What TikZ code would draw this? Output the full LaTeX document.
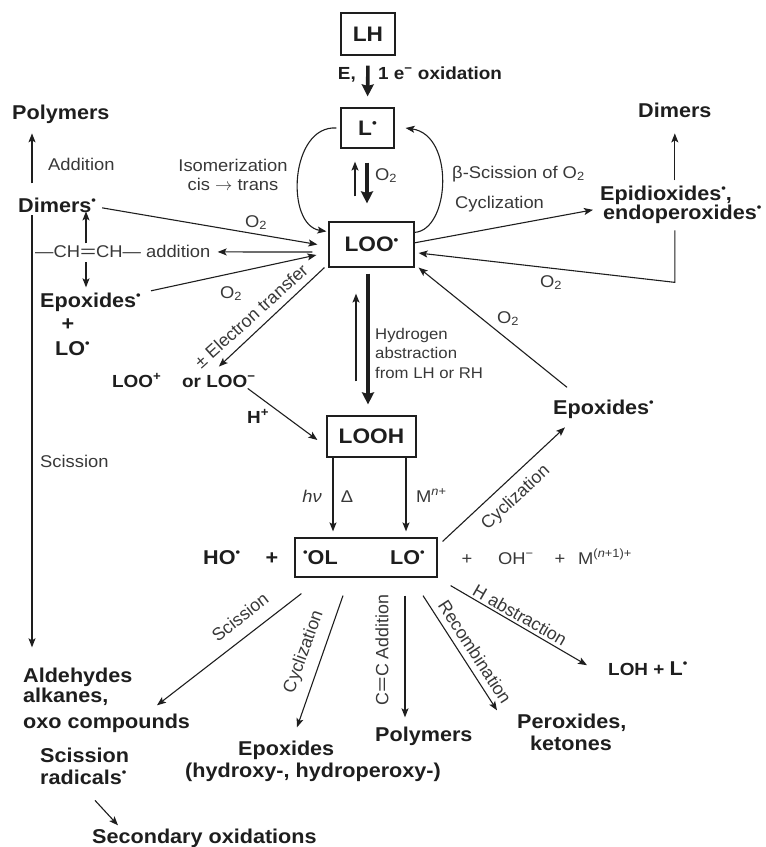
\documentclass[tikz,border=0pt]{standalone}
\usepackage{fontspec}
\usepackage{graphicx}
\setmainfont{Liberation Sans}[FakeStretch=1.08]
\newfontfamily\plainsans{Liberation Sans}
\usetikzlibrary{arrows.meta,calc}
\definecolor{ink}{HTML}{1E1E1E}
\definecolor{lbl}{HTML}{383838}
\newcommand\rd{\raisebox{0.36em}{\scalebox{0.6}{•}}}
\newcommand\dbl{\scalebox{1.5}[1]{=}}
\tikzset{
  bt/.style={font=\fontsize{20}{23}\selectfont\bfseries, text=ink, inner sep=0pt},
  bm/.style={font=\fontsize{17.5}{21}\selectfont\bfseries, text=ink, inner sep=0pt},
  rt/.style={font=\fontsize{17}{20}\selectfont, text=lbl, inner sep=0pt},
  rot/.style={font=\plainsans\fontsize{17.8}{20}\selectfont, text=lbl, inner sep=0pt},
  st/.style={font=\fontsize{15.5}{19}\selectfont, text=lbl, inner sep=0pt},
  boxn/.style={draw=ink, line width=1.2pt, font=\fontsize{21}{24}\selectfont\bfseries, text=ink, inner sep=0pt},
  ar/.style={draw=ink, line width=1.1pt, -{Stealth[length=9pt,width=7pt,inset=2pt]}},
  tk/.style={draw=ink, line width=3.6pt, -{Stealth[length=12pt,width=12pt,inset=1.5pt]}},
}
\begin{document}
\begin{tikzpicture}[x=1pt,y=-1pt]
\useasboundingbox (0,0) rectangle (766,847);
% boxes
\node[boxn, minimum width=54pt, minimum height=42pt] (lh) at (368,34) {LH};
\node[boxn, minimum width=53pt, minimum height=40pt] (lr) at (367.5,128) {L\rd};
\node[boxn, minimum width=85pt, minimum height=45pt] (loo) at (371.5,244.5) {LOO\rd};
\node[boxn, minimum width=89pt, minimum height=41pt] (looh) at (371.5,436.5) {LOOH};
\node[boxn, minimum width=142pt, minimum height=39pt] (lobox) at (366,557.5) {};
\node[bt, anchor=base west] (ol) at (303,564) {\rd OL};
\node[bt, anchor=base west] (lo) at (390,564) {LO\rd};
% left
\node[bt, anchor=base west] (polyL) at (12,119) {Polymers};
\node[rt, anchor=base west] (addL) at (48,170) {Addition};
\node[bt, anchor=base west] (dimL) at (18,212) {Dimers\rd};
\node[rt, anchor=base west] (chch) at (35,257) {—CH\dbl CH— addition};
\node[bt, anchor=base west] (epoxL) at (40,307) {Epoxides\rd};
\node[bt, anchor=base] (plusL) at (68,330) {+};
\node[bt, anchor=base west] (loL) at (55,355) {LO\rd};
\node[rt, anchor=base west] (scisL) at (40,467) {Scission};
% top labels
\node[bm, anchor=base east] (eL) at (356,79) {E,};
\node[bm, anchor=base west] (oxL) at (378,79) {1 e\textsuperscript{−} oxidation};
\node[rt, anchor=base] (iso1) at (233,171) {Isomerization};
\node[rt, anchor=base] (iso2) at (233,190) {cis $\rightarrow$ trans};
\node[rt, anchor=base west] (o2a) at (375,180) {O\textsubscript{2}};
\node[rt, anchor=base west] (beta) at (452,178) {β-Scission of O\textsubscript{2}};
\node[rt, anchor=base west] (cycT) at (455,208) {Cyclization};
\node[rt, anchor=base west] (o2b) at (245,227) {O\textsubscript{2}};
\node[rt, anchor=base west] (o2c) at (220,298) {O\textsubscript{2}};
\node[rt, anchor=base west] (o2d) at (540,287) {O\textsubscript{2}};
\node[rt, anchor=base west] (o2e) at (497,323) {O\textsubscript{2}};
% right
\node[bt, anchor=base west] (dimR) at (638,117) {Dimers};
\node[bt, anchor=base west] (epid1) at (600,200) {Epidioxides\rd,};
\node[bt, anchor=base west] (epid2) at (603,219) {endoperoxides\rd};
\node[bt, anchor=base west] (epoxR) at (553,414) {Epoxides\rd};
% middle
\node[rot, rotate=42] (etr) at (251,316) {± Electron transfer};
\node[bm, anchor=base west] (loop) at (112,387) {LOO\textsuperscript{+}};
\node[bm, anchor=base west] (loom) at (182,387) {or LOO\textsuperscript{−}};
\node[bm, anchor=base west] (hp) at (247,423) {H\textsuperscript{+}};
\node[st, anchor=base west] (hy1) at (375,339) {Hydrogen};
\node[st, anchor=base west] (hy2) at (375,358) {abstraction};
\node[st, anchor=base west] (hy3) at (375,378) {from LH or RH};
\node[rt, anchor=base] (hnu) at (312,502) {\textit{hν}};
\node[rt, anchor=base] (delta) at (347,502) {Δ};
\node[rt, anchor=base west] (mn) at (416,502) {M\textsuperscript{\textit{n}+}};
% row
\node[bt, anchor=base west] (ho) at (203,564) {HO\rd};
\node[bt, anchor=base] (pl1) at (272,564) {+};
\node[rt, anchor=base] (pl2) at (467,564) {+};
\node[rt, anchor=base west] (oh) at (498,564) {OH\textsuperscript{−}};
\node[rt, anchor=base] (pl3) at (560,564) {+};
\node[rt, anchor=base west] (mn1) at (578,564) {M\textsuperscript{(\textit{n}+1)+}};
\node[rot, rotate=43] (cycR) at (516,498) {Cyclization};
% bottom
\node[bt, anchor=base west] (ald1) at (23,682) {Aldehydes};
\node[bt, anchor=base west] (ald2) at (23,702) {alkanes,};
\node[bt, anchor=base west] (ald3) at (23,728) {oxo compounds};
\node[bt, anchor=base west] (scr1) at (40,762) {Scission};
\node[bt, anchor=base west] (scr2) at (40,784) {radicals\rd};
\node[bt, anchor=base west] (sec) at (92,843) {Secondary oxidations};
\node[bt, anchor=base west] (epB1) at (238,755) {Epoxides};
\node[bt, anchor=base west] (epB2) at (185,777) {(hydroxy-, hydroperoxy-)};
\node[bt, anchor=base west] (polyB) at (375,741) {Polymers};
\node[bt, anchor=base west] (per1) at (517,728) {Peroxides,};
\node[bt, anchor=base west] (per2) at (530,750) {ketones};
\node[bm, anchor=base west] (loh) at (608,675) {LOH + {\fontsize{20}{23}\selectfont L\rd}};
\node[rot, rotate=38] (scB) at (240,617) {Scission};
\node[rot, rotate=70] (cyB) at (304,652) {Cyclization};
\node[rot, rotate=90] (ccB) at (382,650) {C\dbl C Addition};
\node[rot, rotate=-57] (reB) at (475,652) {Recombination};
\node[rot, rotate=-30] (haB) at (520,615) {H abstraction};
% connectors
\draw[tk, shorten <=10pt, shorten >=11pt] (lh.south) -- (lr.north);
\draw[tk] ($(lr.south)+(-0.5,14)$) -- ($(loo.north)+(-4.5,-18)$);
\draw[ar] ($(loo.north)+(-16.5,-25)$) -- ($(lr.south)+(-12.5,13)$);
\draw[ar] ($(lr.west)+(-4,0)$) .. controls (290,125) and (285,225) .. ($(loo.north west)+(-2,10)$);
\draw[ar] ($(loo.north east)+(0,11)$) .. controls (450,230) and (455,135) .. ($(lr.east)+(11,0)$);
\draw[ar] ($(dimL.east)+(6,3)$) -- ($(loo.west)+(-11,0)$);
\draw[ar] ($(loo.west)+(-16,7.5)$) -- ($(chch.east)+(7,1)$);
\draw[ar] ($(epoxL.east)+(10,-11)$) -- ($(loo.west)+(-12,10.5)$);
\draw[ar] ($(loo.south west)+(-4,0)$) -- ($(loom.north)+(0,-8)$);
\draw[ar] ($(loom.east)+(-8,7.5)$) -- ($(looh.west)+(-9,3.5)$);
\draw[tk] ($(loo.south)+(-3.5,6)$) -- ($(looh.north)+(-3.5,-11)$);
\draw[ar] ($(looh.north)+(-15.5,-34)$) -- ($(loo.south)+(-15.5,26)$);
\draw[ar] ($(looh.south)+(-38.5,0)$) -- ($(lobox.north)+(-33,-6)$);
\draw[ar] ($(looh.south)+(34.5,0)$) -- ($(lobox.north)+(40,-6)$);
\draw[ar] ($(lobox.north east)+(5,4)$) -- ($(epoxR.south west)+(12,9)$);
\draw[ar] ($(epoxR.north west)+(14,-12)$) -- ($(loo.south east)+(4,0)$);
\draw[ar] ($(loo.east)+(-1,-1.5)$) -- ($(epid2.west)+(-10,-4)$);
\draw[ar, shorten <=5pt, shorten >=16pt] (epid1.north -| dimR.south) -- (dimR.south);
\draw[ar] ($(epid2.south -| dimR.south)+(0,7)$) -- ++(0,52) -- ($(loo.east)+(4,8.5)$);
\draw[ar] ($(dimL.north west)+(14,-14)$) -- ($(polyL.south west)+(20,10)$);
\draw[ar] ($(dimL.south west)+(14,3)$) -- ($(ald1.north west)+(9,-20)$);
\draw[ar] ($(chch.north west)+(51,-1)$) -- ($(dimL.south west)+(68,-1)$);
\draw[ar] ($(chch.south west)+(51,5)$) -- ($(epoxL.north west)+(46,-5)$);
\draw[ar] ($(lobox.south west)+(7,16)$) -- ($(ald3.north west)+(134,-8)$);
\draw[ar] ($(lobox.south)+(-23,18)$) -- ($(epB1.north west)+(59,-13)$);
\draw[ar] ($(lobox.south)+(39,18)$) -- ($(polyB.north west)+(30,-9)$);
\draw[ar] ($(lobox.south)+(57,18)$) -- ($(per1.north west)+(-20,-3)$);
\draw[ar] ($(lobox.south east)+(13,8)$) -- ($(loh.west)+(-21,-3)$);
\draw[ar] ($(scr2.south west)+(55,16)$) -- ($(sec.north west)+(26,-3)$);
\end{tikzpicture}
\end{document}
